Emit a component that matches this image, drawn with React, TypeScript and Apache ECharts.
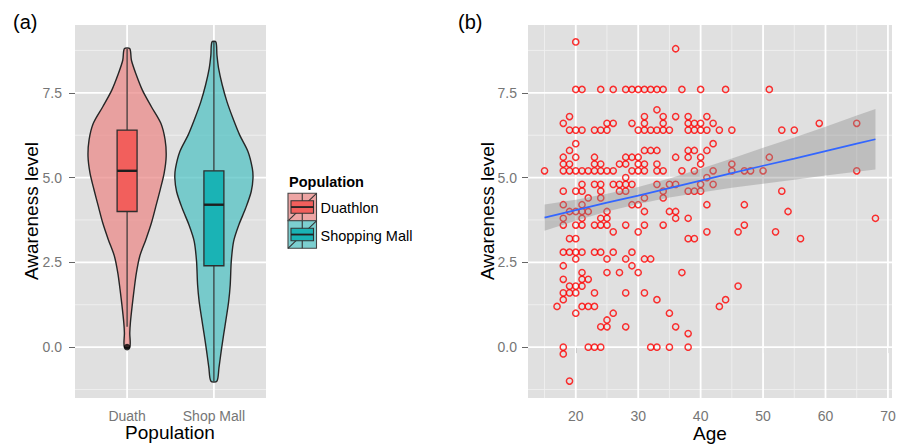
import React, { useEffect, useRef } from "react";
import * as echarts from "echarts";

const FONT = "'Liberation Sans', Arial, Helvetica, sans-serif";

// ---------- Panel (a): violins ----------
const groups = ["Duath", "Shop Mall"];
const legendLabels = ["Duathlon", "Shopping Mall"];
const boxColors = ["#F25F5C", "#1AB3B5"];
const violinColors = ["rgba(235,139,137,0.75)", "rgba(84,195,196,0.75)"];
const PANEL_BG = "#E0E0E0";

const duathLevels = [8.8, 8.46, 8.07, 7.58, 7.09, 6.6, 6.11, 5.62, 5.13, 4.64, 4.15, 3.66, 3.17, 2.68, 2.19, 1.7, 1.21, 0.72, 0.42, 0];
const duathWidths = [0.031, 0.05, 0.1, 0.176, 0.28, 0.389, 0.438, 0.45, 0.427, 0.381, 0.331, 0.28, 0.216, 0.146, 0.107, 0.081, 0.058, 0.038, 0.031, 0.031];
const mallLevels = [9.0, 8.61, 8.22, 7.73, 7.24, 6.75, 6.26, 5.77, 5.28, 4.98, 4.59, 4.1, 3.61, 3.12, 2.53, 1.84, 1.35, 0.86, 0.37, -0.12, -0.61, -1.0];
const mallWidths = [0.023, 0.035, 0.054, 0.096, 0.15, 0.219, 0.296, 0.392, 0.442, 0.45, 0.43, 0.366, 0.288, 0.227, 0.2, 0.188, 0.17, 0.142, 0.112, 0.084, 0.058, 0.035];

// [lower whisker, Q1, median, Q3, upper whisker]
const duathBox = [0.6, 4.0, 5.2, 6.4, 8.8];
const mallBox = [-1.0, 2.4, 4.2, 5.2, 9.0];
const duathOutliers = [0];

const leftYTicks = [0, 2.5, 5, 7.5];
const leftYMinor = [-1.25, 1.25, 3.75, 6.25, 8.75];
const leftXTicks = [1, 2];

// ---------- Panel (b): scatter ----------
// [awareness level, ages observed at that level]
const pointRows: Array<[number, number[]]> = [
  [9.0, [20]],
  [8.8, [36]],
  [7.6, [20, 21, 24, 26, 28, 29, 30, 31, 32, 33, 34, 37, 40, 44, 51]],
  [7.0, [33]],
  [6.8, [19, 31, 34, 36, 38, 41]],
  [6.6, [18, 25, 26, 29, 31, 34, 38, 39, 40, 42, 59, 65]],
  [6.4, [19, 20, 21, 23, 24, 25, 30, 31, 32, 33, 34, 35, 38, 39, 40, 41, 43, 45, 53, 55]],
  [6.0, [20, 42]],
  [5.8, [19, 31, 32, 33, 38, 39, 41]],
  [5.6, [18, 20, 23, 28, 29, 30, 36, 38, 40, 51]],
  [5.4, [18, 19, 23, 24, 27, 28, 30, 31, 33, 40, 45]],
  [5.2, [15, 18, 19, 20, 21, 22, 23, 24, 25, 26, 29, 30, 31, 33, 34, 37, 39, 42, 45, 47, 48, 50, 65]],
  [5.0, [28, 41]],
  [4.8, [21, 23, 24, 26, 27, 28, 29, 33, 35, 36, 40, 42]],
  [4.6, [18, 20, 21, 24, 27, 28, 34, 38, 39, 40, 53]],
  [4.4, [22, 24, 31, 34]],
  [4.2, [18, 21, 29, 30, 41, 47]],
  [4.0, [19, 20, 21, 22, 25, 31, 35, 36, 54]],
  [3.8, [18, 21, 24, 25, 36, 38, 68]],
  [3.6, [18, 20, 21, 23, 24, 25, 28, 31, 34, 47]],
  [3.4, [26, 30, 41, 46, 52]],
  [3.2, [19, 20, 38, 39, 56]],
  [2.8, [18, 19, 20, 21, 23, 24, 26, 29]],
  [2.6, [20, 25, 28, 31, 32]],
  [2.4, [18, 29]],
  [2.2, [21, 25, 27, 30, 37]],
  [2.0, [18, 21, 22]],
  [1.8, [19, 20, 21, 46]],
  [1.6, [18, 19, 20, 23, 28, 31]],
  [1.4, [18, 33, 44]],
  [1.2, [17, 21, 22, 23, 43]],
  [1.0, [20, 26, 35]],
  [0.8, [25]],
  [0.6, [24, 25, 28, 36]],
  [0.4, [38]],
  [0.0, [18, 22, 23, 24, 32, 33, 35, 38]],
  [-0.2, [18]],
  [-1.0, [19]],
];

const fitAges = [15, 20, 25, 30, 35, 40, 45, 50, 55, 60, 65, 68];
const fitValues = [3.82, 4.04, 4.26, 4.47, 4.69, 4.91, 5.13, 5.35, 5.56, 5.78, 6.0, 6.13];
const bandLower = [3.43, 3.73, 4.0, 4.22, 4.41, 4.56, 4.7, 4.82, 4.94, 5.06, 5.17, 5.24];
const bandUpper = [4.21, 4.35, 4.52, 4.72, 4.97, 5.26, 5.56, 5.88, 6.18, 6.5, 6.83, 7.02];

const rightXTicks = [20, 30, 40, 50, 60, 70];
const rightXMinor = [15, 25, 35, 45, 55, 65];
const rightYTicks = [0, 2.5, 5, 7.5];
const rightYMinor = [-1.25, 1.25, 3.75, 6.25, 8.75];

// ---------- helpers ----------
function gridLines(xMajor: number[], xMinor: number[], yMajor: number[], yMinor: number[]) {
  return (params: any, api: any) => {
    const cs = params.coordSys;
    const children: any[] = [];
    const refX = api.value(0);
    const refY = api.value(1);
    const h = (v: number, major: boolean) => {
      const y = api.coord([refX, v])[1];
      children.push({
        type: "line",
        shape: { x1: cs.x, y1: y, x2: cs.x + cs.width, y2: y },
        style: { stroke: major ? "#FFFFFF" : "#EFEFEF", lineWidth: major ? 1.8 : 0.9 },
      });
    };
    const vl = (v: number, major: boolean) => {
      const x = api.coord([v, refY])[0];
      children.push({
        type: "line",
        shape: { x1: x, y1: cs.y, x2: x, y2: cs.y + cs.height },
        style: { stroke: major ? "#FFFFFF" : "#EFEFEF", lineWidth: major ? 1.8 : 0.9 },
      });
    };
    yMinor.forEach((v) => h(v, false));
    xMinor.forEach((v) => vl(v, false));
    yMajor.forEach((v) => h(v, true));
    xMajor.forEach((v) => vl(v, true));
    return { type: "group", children };
  };
}

const violinLevels = [duathLevels, mallLevels];
const violinWidths = [duathWidths, mallWidths];
const boxStats = [duathBox, mallBox];
const BOX_HALF = 0.115;

function buildOption(): any {
  const scatterData: number[][] = [];
  pointRows.forEach(([lvl, ages]) => ages.forEach((a) => scatterData.push([a, lvl])));
  const fitData = fitAges.map((a, i) => [a, fitValues[i]]);

  const axisLabelStyle = { color: "#767676", fontSize: 14, fontFamily: FONT };
  const tickStyle = { color: "#666666", width: 1 };

  const key = (i: number, y: number) => {
    const kx = 288;
    const kw = 28.5;
    const kh = 27.5;
    const cx = kx + kw / 2;
    return {
      type: "group",
      children: [
        { type: "rect", shape: { x: kx, y, width: kw, height: kh }, style: { fill: "#F2F2F2" } },
        { type: "rect", shape: { x: kx, y, width: kw, height: kh }, style: { fill: violinColors[i], stroke: "#444", lineWidth: 1.1 } },
        { type: "line", shape: { x1: kx, y1: y + kh, x2: kx + kw, y2: y }, style: { stroke: "#333", lineWidth: 1.1 } },
        { type: "line", shape: { x1: cx, y1: y, x2: cx, y2: y + kh }, style: { stroke: "#333", lineWidth: 1.1 } },
        { type: "rect", shape: { x: kx + 3, y: y + 7.5, width: kw - 6, height: 12.5 }, style: { fill: boxColors[i], stroke: "#333", lineWidth: 1.1 } },
        { type: "line", shape: { x1: kx + 3, y1: y + 13.75, x2: kx + kw - 3, y2: y + 13.75 }, style: { stroke: "#222", lineWidth: 1.8 } },
        {
          type: "text",
          x: kx + kw + 4,
          y: y + kh / 2 + 1,
          style: { text: legendLabels[i], fontSize: 14.5, fontFamily: FONT, fill: "#000", align: "left", verticalAlign: "middle", textAlign: "left", textVerticalAlign: "middle" },
        },
      ],
    };
  };

  const text = (t: string, x: number, y: number, size: number, opts: any = {}) => ({
    type: "text",
    x,
    y,
    rotation: opts.rotation || 0,
    style: {
      text: t,
      fontSize: size,
      fontFamily: FONT,
      fontWeight: opts.bold ? "bold" : "normal",
      fill: "#000",
      align: opts.align || "center",
      verticalAlign: "middle",
      textAlign: opts.align || "center",
      textVerticalAlign: "middle",
    },
  });

  return {
    animation: false,
    backgroundColor: "#FFFFFF",
    textStyle: { fontFamily: FONT },
    grid: [
      { left: 75, top: 25, width: 191, height: 373, show: true, backgroundColor: PANEL_BG, borderWidth: 0, containLabel: false, outerBoundsMode: "none" },
      { left: 528, top: 25, width: 364, height: 373, show: true, backgroundColor: PANEL_BG, borderWidth: 0, containLabel: false, outerBoundsMode: "none" },
    ],
    xAxis: [
      {
        gridIndex: 0,
        type: "value",
        min: 0.4,
        max: 2.6,
        axisLine: { show: false },
        axisTick: { show: true, customValues: leftXTicks, length: 6, lineStyle: tickStyle },
        axisLabel: { ...axisLabelStyle, customValues: leftXTicks, margin: 11, formatter: (v: number) => groups[Math.round(v) - 1] || "" },
        splitLine: { show: false },
      },
      {
        gridIndex: 1,
        type: "value",
        min: 12.35,
        max: 70.65,
        axisLine: { show: false },
        axisTick: { show: true, customValues: rightXTicks, length: 6, lineStyle: tickStyle },
        axisLabel: { ...axisLabelStyle, customValues: rightXTicks, margin: 11, formatter: (v: number) => String(Math.round(v)) },
        splitLine: { show: false },
      },
    ],
    yAxis: [
      {
        gridIndex: 0,
        type: "value",
        min: -1.5,
        max: 9.5,
        axisLine: { show: false },
        axisTick: { show: true, customValues: leftYTicks, length: 6, lineStyle: tickStyle },
        axisLabel: { ...axisLabelStyle, customValues: leftYTicks, margin: 13, formatter: (v: number) => v.toFixed(1) },
        splitLine: { show: false },
      },
      {
        gridIndex: 1,
        type: "value",
        min: -1.5,
        max: 9.5,
        axisLine: { show: false },
        axisTick: { show: true, customValues: rightYTicks, length: 6, lineStyle: tickStyle },
        axisLabel: { ...axisLabelStyle, customValues: rightYTicks, margin: 11, formatter: (v: number) => v.toFixed(1) },
        splitLine: { show: false },
      },
    ],
    series: [
      {
        type: "custom",
        xAxisIndex: 0,
        yAxisIndex: 0,
        z: 1,
        silent: true,
        data: [[1.5, 4]],
        renderItem: gridLines(leftXTicks, [], leftYTicks, leftYMinor),
      },
      {
        type: "custom",
        xAxisIndex: 1,
        yAxisIndex: 1,
        z: 1,
        silent: true,
        data: [[40, 4]],
        renderItem: gridLines(rightXTicks, rightXMinor, rightYTicks, rightYMinor),
      },
      {
        type: "custom",
        name: "violin",
        xAxisIndex: 0,
        yAxisIndex: 0,
        z: 2,
        silent: true,
        data: [[1, 4], [2, 4]],
        renderItem: (params: any, api: any) => {
          const i = params.dataIndex;
          const c = i + 1;
          const lv = violinLevels[i];
          const w = violinWidths[i];
          const pts: number[][] = [];
          for (let k = 0; k < lv.length; k++) pts.push(api.coord([c + w[k], lv[k]]));
          for (let k = lv.length - 1; k >= 0; k--) pts.push(api.coord([c - w[k], lv[k]]));
          return {
            type: "polygon",
            shape: { points: pts, smooth: 0.3 },
            style: { fill: violinColors[i], stroke: "#262626", lineWidth: 1.4 },
          };
        },
      },
      {
        type: "custom",
        name: "box",
        xAxisIndex: 0,
        yAxisIndex: 0,
        z: 3,
        silent: true,
        data: [[1, 4], [2, 4]],
        renderItem: (params: any, api: any) => {
          const i = params.dataIndex;
          const c = i + 1;
          const [lo, q1, med, q3, hi] = boxStats[i];
          const pLo = api.coord([c, lo]);
          const pHi = api.coord([c, hi]);
          const tl = api.coord([c - BOX_HALF, q3]);
          const br = api.coord([c + BOX_HALF, q1]);
          const mL = api.coord([c - BOX_HALF, med]);
          const mR = api.coord([c + BOX_HALF, med]);
          return {
            type: "group",
            children: [
              { type: "line", shape: { x1: pLo[0], y1: pLo[1], x2: pLo[0], y2: br[1] }, style: { stroke: "#2E2E2E", lineWidth: 1.2 } },
              { type: "line", shape: { x1: pHi[0], y1: pHi[1], x2: pHi[0], y2: tl[1] }, style: { stroke: "#2E2E2E", lineWidth: 1.2 } },
              { type: "rect", shape: { x: tl[0], y: tl[1], width: br[0] - tl[0], height: br[1] - tl[1] }, style: { fill: boxColors[i], stroke: "#2E2E2E", lineWidth: 1.3 } },
              { type: "line", shape: { x1: mL[0], y1: mL[1], x2: mR[0], y2: mR[1] }, style: { stroke: "#1E1E1E", lineWidth: 2.4 } },
            ],
          };
        },
      },
      {
        type: "scatter",
        name: "outliers",
        xAxisIndex: 0,
        yAxisIndex: 0,
        z: 4,
        silent: true,
        symbol: "circle",
        symbolSize: 6.5,
        itemStyle: { color: "#000000" },
        data: duathOutliers.map((v) => [1, v]),
      },
      {
        type: "scatter",
        name: "points",
        xAxisIndex: 1,
        yAxisIndex: 1,
        z: 2,
        silent: true,
        symbol: "circle",
        symbolSize: 6.2,
        itemStyle: { color: "rgba(0,0,0,0)", borderColor: "#FF0000", borderWidth: 1.5 },
        data: scatterData,
      },
      {
        type: "custom",
        name: "band",
        xAxisIndex: 1,
        yAxisIndex: 1,
        z: 3,
        silent: true,
        data: [[40, 5]],
        renderItem: (_params: any, api: any) => {
          const pts: number[][] = [];
          for (let k = 0; k < fitAges.length; k++) pts.push(api.coord([fitAges[k], bandUpper[k]]));
          for (let k = fitAges.length - 1; k >= 0; k--) pts.push(api.coord([fitAges[k], bandLower[k]]));
          return { type: "polygon", shape: { points: pts }, style: { fill: "rgba(140,140,140,0.4)" } };
        },
      },
      {
        type: "line",
        name: "fit",
        xAxisIndex: 1,
        yAxisIndex: 1,
        z: 4,
        silent: true,
        showSymbol: false,
        symbol: "none",
        lineStyle: { color: "#3366FF", width: 1.7 },
        data: fitData,
      },
    ],
    graphic: [
      text("(a)", 13, 21.5, 20, { align: "left" }),
      text("(b)", 458, 21.5, 20, { align: "left" }),
      text("Population", 170, 432, 19),
      text("Awareness level", 31, 211, 19, { rotation: Math.PI / 2 }),
      text("Age", 710, 433, 19),
      text("Awareness level", 487, 211, 19, { rotation: Math.PI / 2 }),
      text("Population", 289, 182, 14.5, { align: "left", bold: true }),
      key(0, 193.3),
      key(1, 220.8),
    ],
  };
}

export default function App() {
  const ref = useRef<HTMLDivElement>(null);
  useEffect(() => {
    if (!ref.current) return;
    const chart = echarts.init(ref.current, null, { renderer: "svg" });
    chart.setOption(buildOption());
    return () => chart.dispose();
  }, []);
  return (
    <div
      ref={ref}
      style={{ position: "absolute", left: 0, top: 0, width: 900, height: 445, background: "#fff" }}
    />
  );
}
